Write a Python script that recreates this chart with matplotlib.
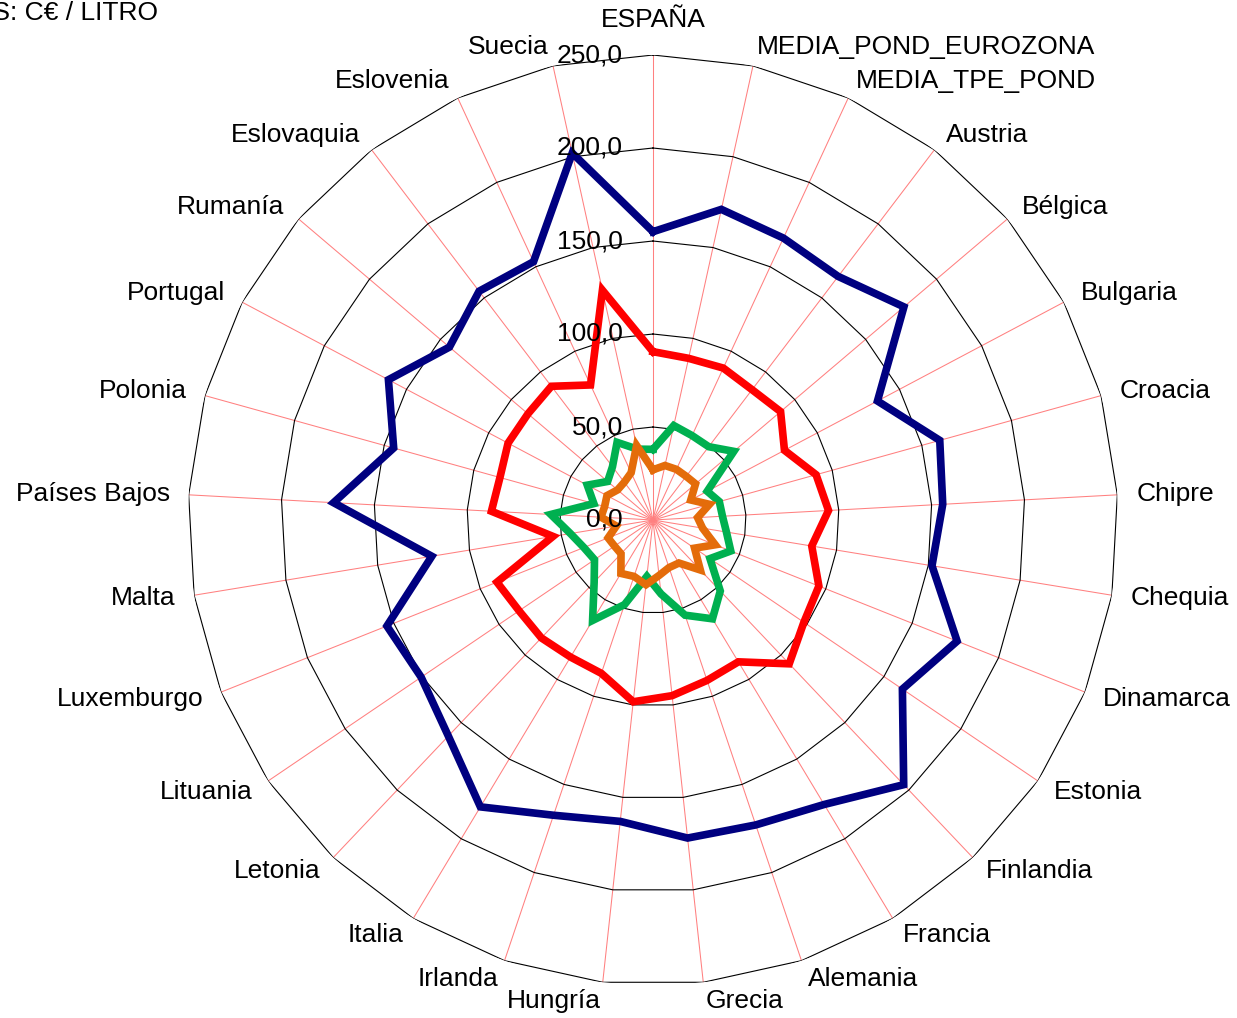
import numpy as np
import matplotlib
matplotlib.use("Agg")
import matplotlib.pyplot as plt
from matplotlib import transforms

plt.rcParams['font.family'] = ['Liberation Sans', 'DejaVu Sans']

categories = ["ESPAÑA", "MEDIA_POND_EUROZONA", "MEDIA_TPE_POND", "Austria", "Bélgica",
              "Bulgaria", "Croacia", "Chipre", "Chequia", "Dinamarca", "Estonia",
              "Finlandia", "Francia", "Alemania", "Grecia", "Hungría", "Irlanda",
              "Italia", "Letonia", "Lituania", "Luxemburgo", "Malta", "Países Bajos",
              "Polonia", "Portugal", "Rumanía", "Eslovaquia", "Eslovenia", "Suecia"]

serie_azul = [155, 171, 167, 164.5, 177, 136.6, 160, 156, 152, 176, 162, 196, 178.5,
              173, 172, 163, 167.5, 180, 160, 150.6, 154, 120.5, 172, 144.7, 161,
              143.6, 154.5, 153, 202]
serie_roja = [90.5, 89, 90, 88, 90, 80, 91, 94.5, 86.5, 96, 98, 106.5, 89, 91, 95,
              98.3, 87, 86, 87.3, 87, 90.3, 54.5, 87, 85.4, 88.2, 88.2, 90.3, 80, 126.5]
serie_verde = [38, 52, 50, 49.5, 57, 33, 37, 37.4, 40, 45, 37, 52.6, 62, 54, 40,
               30.5, 48, 63, 46, 38, 40, 45, 55, 33, 40, 32, 36, 46, 39]
serie_naranja = [27, 30, 30, 29.5, 30, 23, 31.5, 24, 27, 36, 27, 37, 27, 27, 30,
                 35, 32, 33.5, 25, 25, 26, 20, 28, 27, 28, 25, 25.5, 28, 41]

ring_values = [0, 50, 100, 150, 200, 250]
ring_labels = ["0,0", "50,0", "100,0", "150,0", "200,0", "250,0"]
titulo = "UNIDADES: C€ / LITRO"

W, H, DPI = 1237, 1018, 100
fig = plt.figure(figsize=(W / DPI, H / DPI), dpi=DPI)
cx, cy, R = 653, 520, 465
ax = fig.add_axes([(cx - R) / W, (H - cy - R) / H, 2 * R / W, 2 * R / H], projection='polar')
ax.set_theta_zero_location('N')
ax.set_theta_direction(-1)
ax.set_ylim(0, 250)
ax.grid(False)
ax.spines['polar'].set_visible(False)
ax.set_xticks([])
ax.set_yticks([])
ax.patch.set_alpha(0)

n = len(categories)
theta = np.arange(n) * 2 * np.pi / n
theta_c = np.append(theta, theta[0])

# spokes
for t in theta:
    ax.plot([t, t], [0, 250], color='#FF8080', lw=0.75, zorder=1)
# polygon rings
for rv in ring_values[1:]:
    ax.plot(theta_c, [rv] * (n + 1), color='black', lw=0.8, zorder=1)

series = [(serie_azul, '#000080'), (serie_roja, '#FF0000'),
          (serie_verde, '#00B050'), (serie_naranja, '#E46C0A')]
for vals, col in series:
    v = np.append(vals, vals[0])
    ax.plot(theta_c, v, color=col, lw=5.5, zorder=3, solid_joinstyle='miter')

fs = 19
# radial tick labels
for rv, lab in zip(ring_values, ring_labels):
    tr = transforms.offset_copy(ax.transData, fig=fig, x=-30 * 72 / DPI, y=0, units='points')
    ax.text(0, rv, lab, transform=tr, ha='right', va='center', fontsize=fs, zorder=4)

# category labels
r_lab = 484 / R * 250
for t, lab in zip(theta, categories):
    s, c = np.sin(t), np.cos(t)
    if abs(s) < 0.05:
        ha = 'center'
        dy = 16
    elif s > 0:
        ha = 'left'
        dy = 0
    else:
        ha = 'right'
        dy = 0
    tr = transforms.offset_copy(ax.transData, fig=fig, x=0, y=dy * 72 / DPI, units='points')
    ax.text(t, r_lab, lab, transform=tr, ha=ha, va='center', fontsize=fs, clip_on=False)

fig.text(158 / W, 1 - 20 / H, titulo, ha='right', va='baseline', fontsize=fs)

fig.savefig('out.png', dpi=DPI)
